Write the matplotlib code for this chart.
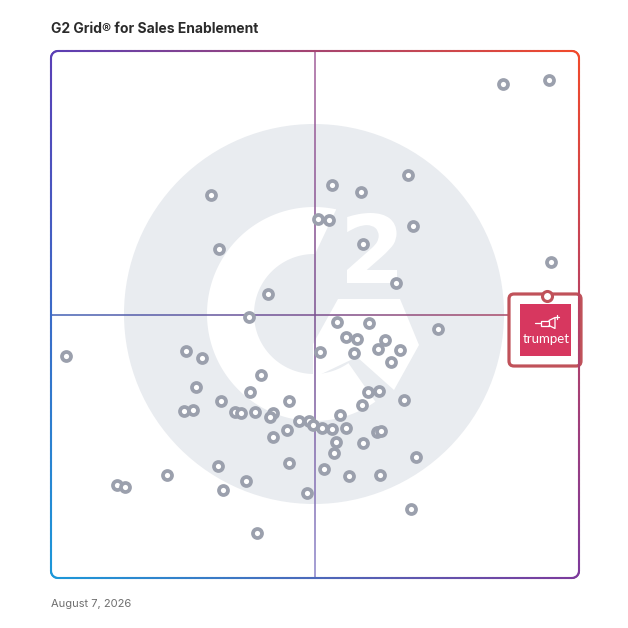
import numpy as np
import matplotlib
matplotlib.use("Agg")
import matplotlib.pyplot as plt
from matplotlib.collections import LineCollection
from matplotlib.patches import Circle, Polygon, FancyBboxPatch, PathPatch, Rectangle
from matplotlib.textpath import TextPath
from matplotlib.font_manager import FontProperties
import matplotlib.transforms as mtransforms
from matplotlib.colors import to_rgb

# ---------------- data ----------------
title = "G2 Grid\u00ae for Sales Enablement"
date_label = "August 7, 2026"
featured_name = "trumpet"

# Satisfaction (x, 0-100) and Market Presence (y, 0-100) of the other products
satisfaction = [85.6, 94.3, 67.6, 53.2, 58.7, 30.3, 50.6, 52.7, 68.6, 31.8,
                59.1, 94.7, 65.3, 41.1, 37.5, 54.2, 60.2, 73.3, 55.9, 58.0,
                63.3, 61.9, 66.1, 50.9, 57.4, 64.4, 2.8, 25.6, 28.6, 39.8,
                27.5, 37.7, 45.1, 32.2, 60.0, 62.1, 66.9, 58.9, 25.2, 26.9,
                34.8, 36.0, 38.6, 42.0, 41.5, 54.7, 47.0, 48.9, 49.6, 51.3,
                53.2, 55.9, 44.7, 42.0, 61.7, 62.5, 54.0, 59.1, 53.6, 69.1,
                31.6, 45.1, 51.7, 56.4, 62.3, 22.0, 12.5, 14.0, 36.9, 32.6,
                48.5, 68.2, 39.0]
market_presence = [93.7, 94.5, 76.5, 74.6, 73.2, 72.7, 68.1, 67.9, 66.8, 62.4,
                   63.4, 60.0, 56.0, 53.9, 49.5, 48.6, 48.4, 47.2, 45.7, 45.4,
                   45.2, 43.5, 43.3, 42.9, 42.7, 41.0, 42.1, 43.1, 41.7, 38.5,
                   36.2, 35.3, 33.6, 33.6, 35.3, 35.5, 33.8, 32.8, 31.7, 31.9,
                   31.5, 31.3, 31.5, 31.3, 30.5, 30.9, 29.8, 29.8, 29.0, 28.5,
                   28.3, 28.5, 28.1, 26.8, 27.7, 27.9, 25.8, 25.6, 23.7, 23.0,
                   21.3, 21.8, 20.7, 19.4, 19.5, 19.5, 17.6, 17.3, 18.4, 16.7,
                   16.1, 13.1, 8.5]
featured_satisfaction = [93.9]
featured_presence = [53.5]
axis_range = [0, 100]
quadrant_split = [50, 50]

# ---------------- figure ----------------
W = H = 628
fig = plt.figure(figsize=(6.28, 6.28), dpi=100)
fig.patch.set_facecolor("white")
L, T, R, B = 51, 51, 579, 578   # frame (pixels)


def px_axes(z):
    a = fig.add_axes([0, 0, 1, 1], zorder=z)
    a.set_xlim(0, W)
    a.set_ylim(H, 0)
    a.axis("off")
    a.patch.set_alpha(0)
    return a


def interp_colors(stops, t):
    cols = np.array([to_rgb(c) for c in stops])
    pos = np.linspace(0, 1, len(stops))
    return np.column_stack([np.interp(t, pos, cols[:, k]) for k in range(3)])


# background G2 watermark
bg = px_axes(0)
cx, cy = 314, 314
bg.add_patch(Circle((cx, cy), 190, fc="#e9ecf0", ec="none"))


def arc(r, a0, a1, n=160):
    t = np.radians(np.linspace(a0, a1, n))
    return np.column_stack([cx + r * np.cos(t), cy - r * np.sin(t)])


ring = np.vstack([arc(107, 78, 305), arc(60, 305, 89)])
bg.add_patch(Polygon(ring, closed=True, fc="white", ec="none"))
chevron = [(338, 299), (400, 299), (419, 345), (394, 390), (357, 357),
           (313, 378), (313, 344)]
bg.add_patch(Polygon(chevron, closed=True, fc="white", ec="none"))
fp2 = FontProperties(family="DejaVu Sans", weight="bold")
tp = TextPath((0, 0), "2", size=1, prop=fp2)
ext = tp.get_extents()
tr = (mtransforms.Affine2D().translate(-ext.x0, -ext.y0)
      .scale(50 / ext.width, -70 / ext.height).translate(347, 283))
bg.add_patch(PathPatch(tr.transform_path(tp), fc="white", ec="none"))

# main data axes
ax = fig.add_axes([L / W, (H - B) / H, (R - L) / W, (B - T) / H], zorder=1)
ax.set_xlim(*axis_range)
ax.set_ylim(*axis_range)
ax.axis("off")
ax.patch.set_alpha(0)

n = 300
t = (np.arange(n) + 0.5) / n
xs = np.linspace(axis_range[0], axis_range[1], n + 1)
hseg = np.stack([np.column_stack([xs[:-1], np.full(n, quadrant_split[1])]),
                 np.column_stack([xs[1:], np.full(n, quadrant_split[1])])], axis=1)
ax.add_collection(LineCollection(hseg, colors=interp_colors(["#4262b6", "#7a4f8f", "#bb4759"], t),
                                 linewidths=1.1, capstyle="butt", zorder=1))
vseg = np.stack([np.column_stack([np.full(n, quadrant_split[0]), xs[:-1]]),
                 np.column_stack([np.full(n, quadrant_split[0]), xs[1:]])], axis=1)
ax.add_collection(LineCollection(vseg, colors=interp_colors(["#8b84c9", "#7a4f8f", "#a4609b"], t),
                                 linewidths=1.1, capstyle="butt", zorder=1))

ax.scatter(satisfaction, market_presence, s=42, marker="o", facecolor="white",
           edgecolor="#9ba0ad", linewidth=2.7, zorder=3, clip_on=False)

# frame with gradient border + callout
fg = px_axes(2)
r = 7


def rounded_rect(x0, y0, x1, y1, r, m=24):
    pts = []
    for (ccx, ccy, a0, a1) in [(x1 - r, y0 + r, 90, 0), (x1 - r, y1 - r, 0, -90),
                               (x0 + r, y1 - r, -90, -180), (x0 + r, y0 + r, 180, 90)]:
        tt = np.radians(np.linspace(a0, a1, m))
        pts.append(np.column_stack([ccx + r * np.cos(tt), ccy - r * np.sin(tt)]))
    pts = np.vstack(pts + [pts[0][:1]])
    d = np.r_[0, np.cumsum(np.hypot(*np.diff(pts, axis=0).T))]
    s = np.linspace(0, d[-1], 1600)
    return np.column_stack([np.interp(s, d, pts[:, 0]), np.interp(s, d, pts[:, 1])])


TL, TR, BL, BR = [np.array(to_rgb(c)) for c in ("#5a3fb6", "#f24a2b", "#1c98d9", "#7d3a9c")]
pp = rounded_rect(L, T, R, B, r)
segs = np.stack([pp[:-1], pp[1:]], axis=1)
mid = segs.mean(axis=1)
u = np.clip((mid[:, 0] - L) / (R - L), 0, 1)[:, None]
v = np.clip((mid[:, 1] - T) / (B - T), 0, 1)[:, None]
cols = (1 - u) * (1 - v) * TL + u * (1 - v) * TR + (1 - u) * v * BL + u * v * BR
fg.add_collection(LineCollection(segs, colors=cols, linewidths=1.5, capstyle="round"))

red = "#c0525a"
fg.add_patch(FancyBboxPatch((509, 294), 72, 72, boxstyle="round,pad=0,rounding_size=5",
                            fc="white", ec=red, lw=2.3))
fg.add_patch(Rectangle((520, 304), 51, 52, fc="#d7375f", ec="none"))
fg.text(546, 339, featured_name, color="white", fontsize=9.5, ha="center", va="center",
        family=["Lato", "DejaVu Sans"])
# small trumpet icon
ic = dict(color="white", lw=0.9, solid_capstyle="round")
fg.plot([535, 541], [323, 323], **ic)
fg.add_patch(Rectangle((541, 320.5), 8, 5, fc="none", ec="white", lw=0.9))
fg.plot([549, 555, 555, 549], [320.5, 317.5, 328.5, 325.5], **ic)
fg.plot([557, 557], [315, 319], **ic)
fg.plot([555, 559], [317, 317], **ic)

# featured product pin on top
ax2 = fig.add_axes(ax.get_position(), zorder=3)
ax2.set_xlim(*axis_range)
ax2.set_ylim(*axis_range)
ax2.axis("off")
ax2.patch.set_alpha(0)
ax2.scatter(featured_satisfaction, featured_presence, s=52, marker="o", facecolor="white",
            edgecolor=red, linewidth=2.2, zorder=5, clip_on=False)

fig.text(L / W, 1 - 29 / H, title, fontsize=10.0, fontweight="bold", color="#2b2b2b",
         ha="left", va="center", family=["Inter", "DejaVu Sans"])
fig.text(L / W, 1 - 604 / H, date_label, fontsize=8.0, color="#6e6e6e",
         ha="left", va="center", family=["Inter", "DejaVu Sans"])

fig.savefig("out.png", dpi=100, facecolor="white")
